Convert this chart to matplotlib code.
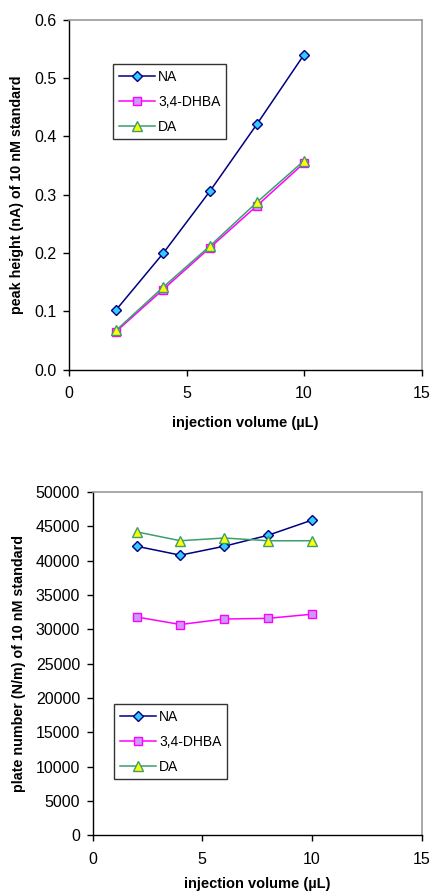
import matplotlib.pyplot as plt

plt.rcParams['font.family'] = ['Liberation Sans', 'DejaVu Sans']

volume = [2, 4, 6, 8, 10]

# peak height (nA)
height_na = [0.102, 0.199, 0.306, 0.421, 0.540]
height_dhba = [0.065, 0.137, 0.209, 0.281, 0.354]
height_da = [0.067, 0.141, 0.212, 0.287, 0.358]

# plate number (N/m)
plates_na = [42100, 40800, 42100, 43700, 45900]
plates_dhba = [31800, 30700, 31500, 31600, 32200]
plates_da = [44200, 42900, 43300, 42900, 42900]

series_names = ['NA', '3,4-DHBA', 'DA']
styles = [
    dict(color='#000080', marker='D', mfc='#33CCFF', mec='#000080', ms=5.5),
    dict(color='#FF00FF', marker='s', mfc='#CC99FF', mec='#FF00FF', ms=5.5),
    dict(color='#3C9E6E', marker='^', mfc='#FFFF00', mec='#3C9E6E', ms=6.5),
]


def style_axes(ax):
    for side in ('top', 'right'):
        ax.spines[side].set_color('#999999')
        ax.spines[side].set_linewidth(1.2)
    for side in ('left', 'bottom'):
        ax.spines[side].set_color('black')
        ax.spines[side].set_linewidth(1.0)
    ax.tick_params(direction='out', length=4, width=1, labelsize=11.5)
    ax.tick_params(axis='x', pad=8)
    ax.tick_params(axis='y', pad=5)
    ax.set_xlim(0, 15)
    ax.set_xticks([0, 5, 10, 15])


def add_legend(ax, x, y):
    leg = ax.legend(loc='upper left', bbox_to_anchor=(x, y), borderaxespad=0,
                    fontsize=10, frameon=True, fancybox=False, edgecolor='black',
                    handlelength=2.6, handletextpad=0.25, labelspacing=0.8,
                    borderpad=0.4)
    leg.get_frame().set_linewidth(1.0)


fig = plt.figure(figsize=(4.32, 8.94), dpi=100)

# top panel: peak height
ax1 = fig.add_axes([69 / 432, 1 - 369.5 / 894, (421.5 - 69) / 432, (369.5 - 19.7) / 894])
for vals, name, st in zip([height_na, height_dhba, height_da], series_names, styles):
    ax1.plot(volume, vals, lw=1.1, label=name, **st)
style_axes(ax1)
ax1.set_ylim(0, 0.6)
ax1.set_yticks([0, 0.1, 0.2, 0.3, 0.4, 0.5, 0.6])
ax1.set_yticklabels(['0.0', '0.1', '0.2', '0.3', '0.4', '0.5', '0.6'])
ax1.set_xlabel('injection volume (µL)', fontsize=10.5, fontweight='bold', labelpad=11)
ax1.set_ylabel('peak height (nA) of 10 nM standard', fontsize=10.3, fontweight='bold', labelpad=7)
add_legend(ax1, 0.125, 0.873)

# bottom panel: plate number
ax2 = fig.add_axes([92.7 / 432, 1 - 835.3 / 894, (421.5 - 92.7) / 432, (835.3 - 492) / 894])
for vals, name, st in zip([plates_na, plates_dhba, plates_da], series_names, styles):
    ax2.plot(volume, vals, lw=1.1, label=name, **st)
style_axes(ax2)
ax2.set_ylim(0, 50000)
ax2.set_yticks(range(0, 50001, 5000))
ax2.set_xlabel('injection volume (µL)', fontsize=10.5, fontweight='bold', labelpad=7)
ax2.set_ylabel('plate number (N/m) of 10 nM standard', fontsize=10.3, fontweight='bold', labelpad=7)
add_legend(ax2, 0.065, 0.382)

fig.savefig('out.png', dpi=100)
